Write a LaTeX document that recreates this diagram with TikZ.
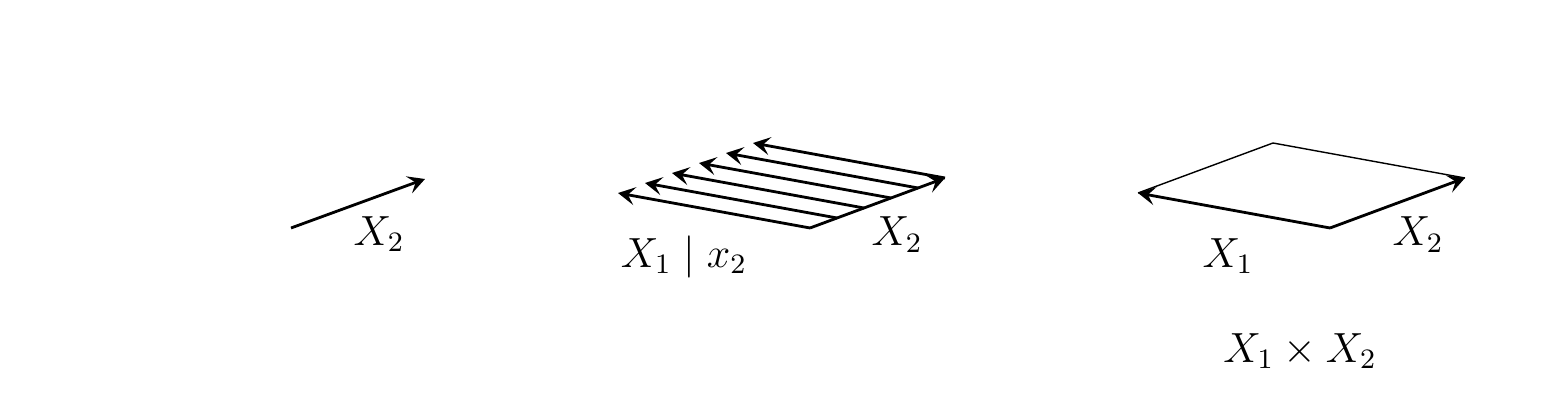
\documentclass[tikz,border=0pt]{standalone}
\usepackage{amsmath}
\usepackage{tikz}
\usetikzlibrary{arrows.meta, calc}

\begin{document}
\begin{tikzpicture}[
    vec/.style={thick, -{Stealth[length=1.7mm, width=1.8mm, inset=0.7mm]}},
    side/.style={thin},
    lbl/.style={anchor=base, inner sep=0pt, font=\fontsize{11.7pt}{14pt}\selectfont}]
        \useasboundingbox (0,0) rectangle (15.62,4.04);

        % single direction
        \coordinate (o1) at (2.91, 1.76);
        \coordinate (b1) at (4.25, 2.25);
        \draw[vec] (o1) -- (b1);
        \node[lbl] (x2a) at (3.79, 1.59) {$X_2$};

        % conditional slices
        \coordinate (o2) at (8.10, 1.76);
        \coordinate (b2) at (9.45, 2.26);
        \coordinate (a2) at (6.18, 2.11);
        \foreach \t in {0, 0.2, 0.4, 0.6, 0.8, 1} {
            \draw[vec] ($(o2)!\t!(b2)$) -- ($(o2)!\t!(b2) + (a2) - (o2)$);
        }
        \draw[vec] (o2) -- (b2);
        \node[lbl] (cond) at (6.84, 1.37) {$X_1 \mid x_2$};
        \node[lbl] (x2b) at (8.97, 1.58) {$X_2$};

        % product space
        \coordinate (o3) at (13.30, 1.76);
        \coordinate (b3) at (14.65, 2.26);
        \coordinate (a3) at (11.38, 2.11);
        \coordinate (c3) at (12.73, 2.61);
        \draw[side] (a3) -- (c3) -- (b3);
        \draw[vec] (o3) -- (a3);
        \draw[vec] (o3) -- (b3);
        \node[lbl] (x1c) at (12.28, 1.37) {$X_1$};
        \node[lbl] (x2c) at (14.18, 1.58) {$X_2$};
        \node[lbl] (prod) at (13.00, 0.42) {$X_1 \times X_2$};
    \end{tikzpicture}
\end{document}
